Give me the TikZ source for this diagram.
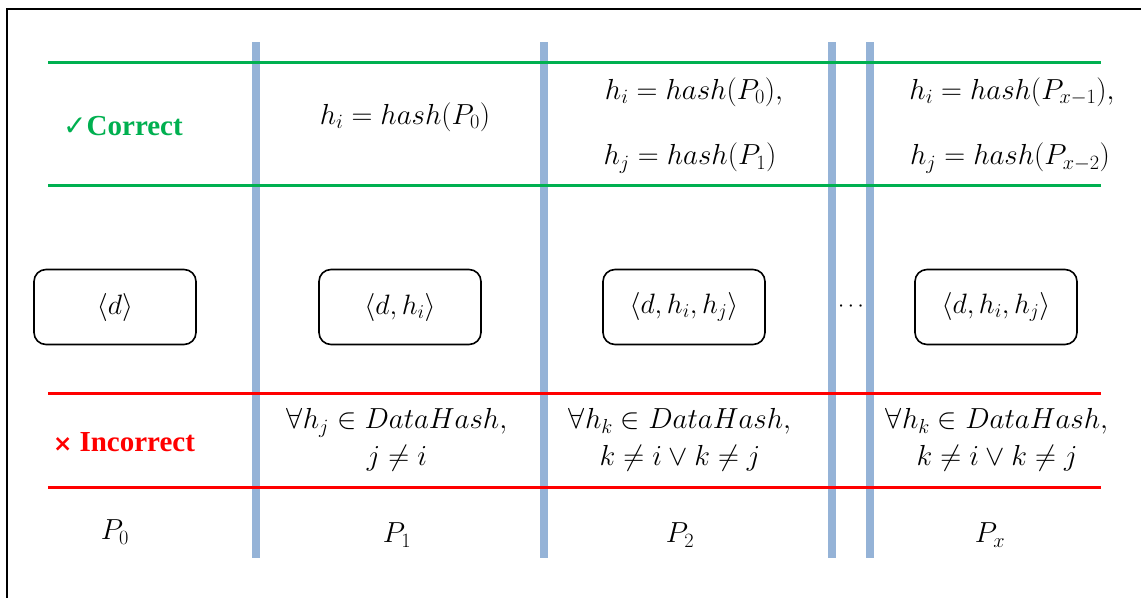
\RequirePackage{fix-cm}
\documentclass[tikz,border=0pt]{standalone}
\usepackage{amssymb}
\usepackage{fontspec}
\setmainfont{Liberation Serif}
\newfontfamily\dejavu{DejaVu Sans}
\definecolor{okgreen}{HTML}{00B050}
\definecolor{badred}{HTML}{FF0000}
\definecolor{barblue}{HTML}{95B3D7}
\begin{document}
\begin{tikzpicture}[x=1pt,y=-1pt,
  bar/.style={barblue,line width=8pt},
  gline/.style={okgreen,line width=3pt},
  rline/.style={badred,line width=3pt},
  msgbox/.style={draw,line width=1.6pt,rounded corners=12pt,minimum width=162pt,minimum height=75pt,inner sep=0pt,font=\fontsize{28}{34}\selectfont},
  mtext/.style={inner sep=0pt,font=\fontsize{29}{37}\selectfont},
  lab/.style={inner sep=0pt,font=\fontsize{29}{32}\selectfont\bfseries}]
\useasboundingbox (0,0) rectangle (1141,598);
\fill[white] (0,0) rectangle (1141,598);
% frame
\draw[line width=2pt] (1141,9) -- (7,9) -- (7,598);
% vertical bars
\foreach \x/\n in {256/a,544/b,832/c,870/d}{
  \coordinate (bt\n) at (\x,42);
  \coordinate (bb\n) at (\x,558);
  \draw[bar] (bt\n) -- (bb\n);
}
% horizontal lines
\coordinate (g1l) at (48,62);  \coordinate (g1r) at (1101,62);
\coordinate (g2l) at (48,185); \coordinate (g2r) at (1101,185);
\coordinate (r1l) at (48,393); \coordinate (r1r) at (1101,393);
\coordinate (r2l) at (48,487); \coordinate (r2r) at (1101,487);
\draw[gline] (g1l) -- (g1r);
\draw[gline] (g2l) -- (g2r);
\draw[rline] (r1l) -- (r1r);
\draw[rline] (r2l) -- (r2r);
% labels
\node[lab,text=okgreen] (correct) at (123,126) {{\dejavu\mdseries\fontsize{28}{30}\selectfont ✓}Correct};
\node[lab,text=badred] (incorrect) at (124,442) {{\dejavu\fontsize{23}{24}\selectfont ×} Incorrect};
% correct row
\node[mtext] (c2) at (405,117) {$h_i = hash(P_0)$};
\node[mtext] (c3a) at (694,92) {$h_i = hash(P_0),$};
\node[mtext] (c3b) at (690,158) {$h_j = hash(P_1)$};
\node[mtext] (c4a) at (1012,92) {$h_i = hash(P_{x-1}),$};
\node[mtext] (c4b) at (1010,158) {$h_j = hash(P_{x-2})$};
% boxes
\node[msgbox] (m1) at (115,307) {$\langle d\rangle$};
\node[msgbox] (m2) at (400,307) {$\langle d, h_i\rangle$};
\node[msgbox] (m3) at (684,307) {$\langle d, h_i, h_j\rangle$};
\node[msgbox] (m4) at (996,307) {$\langle d, h_i, h_j\rangle$};
\node[inner sep=0pt,font=\fontsize{22}{24}\selectfont] (dots) at (851,307) {$\cdots$};
% incorrect row
\node[mtext,align=center] (i2) at (397,440) {$\forall h_j \in DataHash,$\\$j \neq i$};
\node[mtext,align=center] (i3) at (680,440) {$\forall h_k \in DataHash,$\\$k \neq i \vee k \neq j$};
\node[mtext,align=center] (i4) at (997,440) {$\forall h_k \in DataHash,$\\$k \neq i \vee k \neq j$};
% bottom labels
\node[mtext] (p0) at (115,532) {$P_0$};
\node[mtext] (p1) at (397,535) {$P_1$};
\node[mtext] (p2) at (680,535) {$P_2$};
\node[mtext] (px) at (990,535) {$P_x$};
\end{tikzpicture}
\end{document}
